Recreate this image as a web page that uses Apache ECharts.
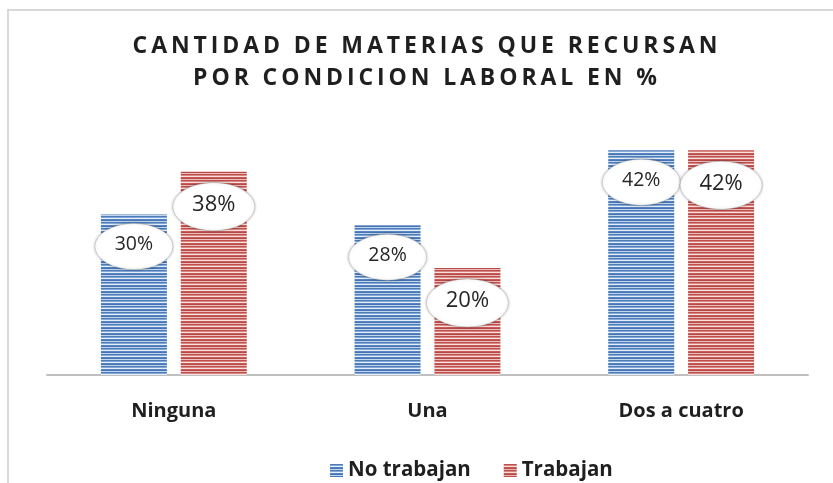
<!DOCTYPE html>
<html>
<head>
<meta charset="utf-8">
<script src="https://cdn.jsdelivr.net/npm/echarts@6/dist/echarts.min.js"></script>
<style>
  html, body { margin: 0; padding: 0; background: #fff; }
  #chart { width: 833px; height: 483px; }
</style>
</head>
<body>
<div id="chart"></div>
<script>
// datos
const categories = ['Ninguna', 'Una', 'Dos a cuatro'];
const noTrabajan = [30, 28, 42];
const trabajan = [38, 20, 42];
const seriesNames = ['No trabajan', 'Trabajan'];

// rayado horizontal de las barras
const makeStripes = (colors) => {
  const c = document.createElement('canvas');
  c.width = 4;
  c.height = colors.length;
  const ctx = c.getContext('2d');
  colors.forEach((col, i) => {
    ctx.fillStyle = col;
    ctx.fillRect(0, i, 4, 1);
  });
  return { image: c, repeat: 'repeat' };
};
const blueFill = makeStripes(['#4a7cba', '#86a8d4', '#e6edf7', '#5685c1', '#4474b3', '#c3d5ec']);
const redFill = makeStripes(['#bf4e4b', '#d68884', '#f7e0df', '#c85c59', '#b64845', '#ebbfbd']);

// el titulo lleva espaciado entre letras
const fillText = CanvasRenderingContext2D.prototype.fillText;
CanvasRenderingContext2D.prototype.fillText = function (t, x, y, w) {
  if (this.font.indexOf('23px') >= 0) this.letterSpacing = '3.9px';
  fillText.call(this, t, x, y, w);
  this.letterSpacing = '0px';
};

const ellipse = 'path://M0,1 A1,1 0 1,1 2,1 A1,1 0 1,1 0,1 Z';
const FONT = '"Open Sans", "Noto Sans", sans-serif';

const chart = echarts.init(document.getElementById('chart'));

const labelSeries = (name, data, size, offset, fontSize) => ({
  name: name,
  type: 'pictorialBar',
  symbol: ellipse,
  symbolSize: size,
  symbolPosition: 'end',
  symbolOffset: [0, offset],
  barWidth: 66,
  barGap: '21%',
  barCategoryGap: '42%',
  z: 5,
  silent: true,
  itemStyle: {
    color: '#fff',
    borderColor: '#a8a8a8',
    borderWidth: 2.5,
    shadowBlur: 3,
    shadowColor: 'rgba(0,0,0,0.3)'
  },
  label: {
    show: true,
    position: 'insideTop',
    distance: offset + size[1] / 2 - fontSize / 2 - 1,
    formatter: '{c}%',
    fontFamily: FONT,
    fontSize: fontSize,
    color: '#262626'
  },
  data: data
});

const option = {
  animation: false,
  backgroundColor: '#fff',
  title: {
    text: 'CANTIDAD DE MATERIAS QUE RECURSAN\nPOR CONDICION LABORAL EN %',
    left: 422,
    textAlign: 'center',
    top: 25,
    textStyle: {
      fontFamily: FONT,
      fontSize: 23,
      fontWeight: 'bold',
      color: '#1f1f1f',
      lineHeight: 32
    }
  },
  graphic: [{
    type: 'rect',
    silent: true,
    shape: { x: 8, y: 10, width: 900, height: 600 },
    style: { fill: 'none', stroke: '#d9d9d9', lineWidth: 2 }
  }],
  legend: {
    data: seriesNames,
    left: 325,
    top: 455,
    icon: 'rect',
    itemWidth: 13,
    itemHeight: 13,
    itemGap: 33,
    textStyle: { fontFamily: FONT, fontSize: 20.5, fontWeight: 'bold', color: '#1f1f1f' }
  },
  grid: { left: 47, right: 25, top: 107.5, bottom: 108 },
  xAxis: {
    type: 'category',
    data: categories,
    axisTick: { show: false },
    axisLine: { lineStyle: { color: '#bfbfbf', width: 2 } },
    axisLabel: {
      margin: 26,
      fontFamily: FONT,
      fontSize: 20,
      fontWeight: 'bold',
      color: '#1f1f1f'
    }
  },
  yAxis: {
    type: 'value',
    min: 0,
    max: 50,
    show: false,
    splitLine: { show: false }
  },
  series: [
    {
      name: seriesNames[0],
      type: 'bar',
      barWidth: 66,
      barGap: '21%',
      barCategoryGap: '42%',
      itemStyle: { color: blueFill },
      data: noTrabajan
    },
    {
      name: seriesNames[1],
      type: 'bar',
      barWidth: 66,
      barGap: '21%',
      barCategoryGap: '42%',
      itemStyle: { color: redFill },
      data: trabajan
    },
    labelSeries('etiqueta1', noTrabajan, [78, 46], 8, 19.5),
    labelSeries('etiqueta2', trabajan, [82, 48], 10, 22)
  ]
};

chart.setOption(option);
</script>
</body>
</html>
